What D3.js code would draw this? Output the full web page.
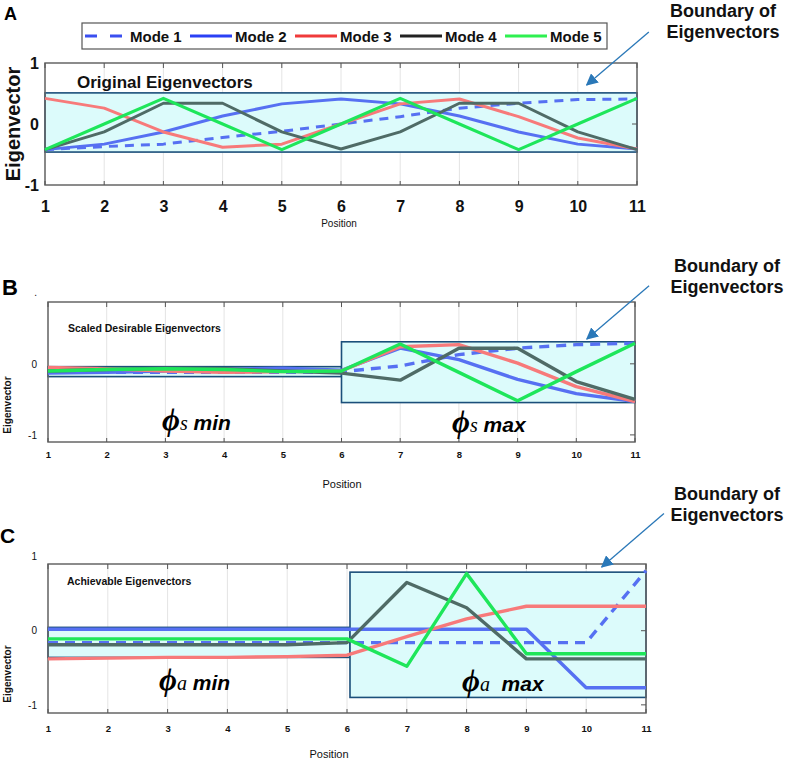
<!DOCTYPE html>
<html>
<head>
<meta charset="utf-8">
<script src="https://cdn.jsdelivr.net/npm/d3@7"></script>
<style>
  body { margin: 0; background: #fff; }
  svg { display: block; }
</style>
</head>
<body>
<div id="chart"></div>
<script>
// data
const positions = [1, 2, 3, 4, 5, 6, 7, 8, 9, 10, 11];
const modeNames = ['Mode 1', 'Mode 2', 'Mode 3', 'Mode 4', 'Mode 5'];

// A - original eigenvectors
const originalMode1 = [-0.42, -0.37, -0.33, -0.22, -0.12, 0, 0.12, 0.26, 0.34, 0.40, 0.41];
const originalMode2 = [-0.42, -0.33, -0.13, 0.13, 0.33, 0.41, 0.33, 0.13, -0.13, -0.33, -0.41];
const originalMode3 = [0.42, 0.26, -0.13, -0.38, -0.33, 0, 0.33, 0.41, 0.12, -0.23, -0.41];
const originalMode4 = [-0.42, -0.13, 0.34, 0.34, -0.13, -0.41, -0.13, 0.34, 0.34, -0.13, -0.42];
const originalMode5 = [-0.42, 0, 0.42, 0, -0.42, 0, 0.42, 0, -0.42, 0, 0.42];

// B - scaled desirable eigenvectors
const scaledMode1 = [-0.12, -0.12, -0.12, -0.12, -0.12, -0.11, -0.03, 0.13, 0.22, 0.27, 0.29];
const scaledMode2 = [-0.13, -0.12, -0.10, -0.08, -0.06, -0.09, 0.22, 0.06, -0.22, -0.42, -0.53];
const scaledMode3 = [-0.05, -0.07, -0.10, -0.12, -0.11, -0.10, 0.24, 0.27, 0.01, -0.32, -0.53];
const scaledMode4 = [-0.10, -0.08, -0.06, -0.07, -0.10, -0.13, -0.23, 0.22, 0.22, -0.25, -0.50];
const scaledMode5 = [-0.10, -0.08, -0.07, -0.08, -0.11, -0.10, 0.28, -0.12, -0.52, -0.11, 0.29];

// C - achievable eigenvectors
const achievableMode1 = [-0.16, -0.16, -0.16, -0.16, -0.16, -0.16, -0.16, -0.16, -0.16, -0.16, 0.81];
const achievableMode2 = [0.02, 0.02, 0.02, 0.02, 0.02, 0.02, 0.02, 0.02, 0.02, -0.77, -0.77];
const achievableMode3 = [-0.38, -0.37, -0.36, -0.36, -0.35, -0.33, -0.08, 0.16, 0.33, 0.33, 0.33];
const achievableMode4 = [-0.19, -0.19, -0.19, -0.19, -0.19, -0.16, 0.65, 0.31, -0.38, -0.38, -0.38];
const achievableMode5 = [-0.11, -0.11, -0.11, -0.11, -0.11, -0.11, -0.48, 0.77, -0.31, -0.31, -0.31];

// boundary boxes (position range, value range)
const boundsOriginal = [{ x0: 1, x1: 11, y0: -0.46, y1: 0.51 }];
const boundsScaled = [{ x0: 1, x1: 6, y0: -0.18, y1: -0.04 }, { x0: 6, x1: 11, y0: -0.545, y1: 0.31 }];
const boundsAchievable = [{ x0: 1, x1: 6.05, y0: -0.36, y1: 0.045 }, { x0: 6.05, x1: 11, y0: -0.9, y1: 0.79 }];

const yTickValues = [1, 0, -1];

const W = 796, H = 765;
const plotColors = ['#5670f2', '#5670f2', '#f77a7a', '#4f6b66', '#1ee65a'];
const legendColors = ['#3a4ff0', '#2a40f5', '#f03a3a', '#222222', '#2ef050'];
const SANS = '"Liberation Sans", Arial, sans-serif';
const NARROW = '"Liberation Sans Narrow", "Arial Narrow", "Liberation Sans", sans-serif';
const SERIF = '"Liberation Serif", "DejaVu Serif", serif';

const svg = d3.select('#chart').append('svg')
  .attr('width', W).attr('height', H)
  .style('background', '#fff');

svg.append('defs').append('marker')
  .attr('id', 'arrowhead')
  .attr('viewBox', '0 0 10 10')
  .attr('refX', 9).attr('refY', 5)
  .attr('markerWidth', 12).attr('markerHeight', 12)
  .attr('markerUnits', 'userSpaceOnUse')
  .attr('orient', 'auto')
  .append('path').attr('d', 'M0,0 L10,5 L0,10 z').attr('fill', '#2a78b8');

const panels = [
  {
    letter: 'A', letterPos: [4, 20], letterSize: 18,
    left: 45, right: 637, top: 63, bottom: 185, yDomain: [-1, 1],
    series: [originalMode1, originalMode2, originalMode3, originalMode4, originalMode5],
    bounds: boundsOriginal,
    yTickLabels: ['1', '0', '-1'], yTickSize: 16, yTickWeight: 'bold', yPad: 6,
    xTickSize: 16, xTickWeight: 'bold', xPad: 15.5, xFont: SANS,
    xLabel: [339, 227, 10], yLabel: [20, 124, 20, 'bold'],
    title: ['Original Eigenvectors', 77, 88, 17, SANS],
    dash: '9,7', lineWidth: 3,
    arrow: { tail: [11.2, 1.51], tip: [10.15, 0.64] }, note: [723, 17],
    phis: []
  },
  {
    letter: 'B', letterPos: [2, 295], letterSize: 22,
    left: 48, right: 635, top: 302, bottom: 442, yDomain: [-1.1, 0.87],
    series: [scaledMode1, scaledMode2, scaledMode3, scaledMode4, scaledMode5],
    bounds: boundsScaled,
    yTickLabels: ['.', '0', '-1'], yTickSize: 10, yTickWeight: 'normal', yPad: 11,
    xTickSize: 9.5, xTickWeight: 'bold', xPad: 9.5, xFont: NARROW,
    xLabel: [342, 488, 11], yLabel: [11, 405, 10, 'bold'],
    title: ['Scaled Desirable Eigenvectors', 68, 332, 10.5, NARROW],
    dash: '10,7', lineWidth: 3.4,
    arrow: { tail: [11.24, 1.1], tip: [10.18, 0.35] }, note: [727, 272],
    phis: [{ x: 162, y: 430, sub: 's', word: ' min' }, { x: 452, y: 432, sub: 's', word: ' max' }]
  },
  {
    letter: 'C', letterPos: [0, 543], letterSize: 21,
    left: 48, right: 646, top: 564, bottom: 713, yDomain: [-1.11, 0.9],
    series: [achievableMode1, achievableMode2, achievableMode3, achievableMode4, achievableMode5],
    bounds: boundsAchievable,
    yTickLabels: ['1', '0', '-1'], yTickSize: 10, yTickWeight: 'normal', yPad: 11,
    xTickSize: 9.5, xTickWeight: 'bold', xPad: 12.5, xFont: NARROW,
    xLabel: [329, 758, 11], yLabel: [11, 674, 10, 'bold'],
    title: ['Achievable Eigenvectors', 67, 585, 10.5, NARROW],
    dash: '10,7', lineWidth: 3.4,
    arrow: { tail: [11.3, 1.58], tip: [10.26, 0.86] }, note: [727, 500],
    phis: [{ x: 159, y: 690, sub: 'a', word: ' min' }, { x: 462, y: 691, sub: 'a', word: '  max' }]
  }
];

panels.forEach(p => drawPanel(p));
drawLegend();

function drawPanel(p) {
  const x = d3.scaleLinear().domain([1, 11]).range([p.left, p.right]);
  const y = d3.scaleLinear().domain(p.yDomain).range([p.bottom, p.top]);
  const g = svg.append('g');

  // grid
  g.selectAll('line.grid').data(positions).join('line')
    .attr('class', 'grid')
    .attr('x1', d => x(d)).attr('x2', d => x(d))
    .attr('y1', p.top).attr('y2', p.bottom)
    .attr('stroke', '#e4e4e4').attr('stroke-width', 1);

  // boundary boxes
  g.selectAll('rect.bound').data(p.bounds).join('rect')
    .attr('class', 'bound')
    .attr('x', d => x(d.x0)).attr('y', d => y(d.y1))
    .attr('width', d => x(d.x1) - x(d.x0))
    .attr('height', d => y(d.y0) - y(d.y1))
    .attr('fill', '#dcfbfb')
    .attr('stroke', '#1b4f7a').attr('stroke-width', 1.6);

  // frame + inward ticks
  g.append('rect')
    .attr('x', p.left).attr('y', p.top)
    .attr('width', p.right - p.left).attr('height', p.bottom - p.top)
    .attr('fill', 'none').attr('stroke', '#666').attr('stroke-width', 1.5);
  g.selectAll('line.tt').data(positions).join('line')
    .attr('class', 'tt')
    .attr('x1', d => x(d)).attr('x2', d => x(d))
    .attr('y1', p.top).attr('y2', p.top + 5)
    .attr('stroke', '#555').attr('stroke-width', 1);
  g.selectAll('line.bt').data(positions).join('line')
    .attr('class', 'bt')
    .attr('x1', d => x(d)).attr('x2', d => x(d))
    .attr('y1', p.bottom).attr('y2', p.bottom - 4)
    .attr('stroke', '#555').attr('stroke-width', 1);
  const inY = yTickValues.filter(v => v > p.yDomain[0] && v < p.yDomain[1]);
  g.selectAll('line.rt').data(inY).join('line')
    .attr('class', 'rt')
    .attr('x1', p.right).attr('x2', p.right - 5)
    .attr('y1', d => y(d)).attr('y2', d => y(d))
    .attr('stroke', '#555').attr('stroke-width', 1);

  // eigenvector lines
  const line = d3.line().x((d, i) => x(positions[i])).y(d => y(d));
  g.selectAll('path.mode').data(p.series).join('path')
    .attr('class', 'mode')
    .attr('d', d => line(d))
    .attr('fill', 'none')
    .attr('stroke', (d, i) => plotColors[i])
    .attr('stroke-width', p.lineWidth)
    .attr('stroke-linejoin', 'round')
    .attr('stroke-dasharray', (d, i) => i === 0 ? p.dash : null);

  // x axis
  const xa = g.append('g')
    .attr('transform', `translate(0,${p.bottom})`)
    .call(d3.axisBottom(x).tickValues(positions).tickFormat(d3.format('d')).tickSize(0).tickPadding(p.xPad));
  xa.select('.domain').remove();
  xa.selectAll('text')
    .attr('fill', '#111')
    .style('font-family', p.xFont)
    .style('font-size', p.xTickSize + 'px')
    .style('font-weight', p.xTickWeight);

  // y axis
  const ya = g.append('g')
    .attr('transform', `translate(${p.left},0)`)
    .call(d3.axisLeft(y).tickValues(yTickValues).tickFormat((d, i) => p.yTickLabels[i]).tickSize(0).tickPadding(p.yPad));
  ya.select('.domain').remove();
  ya.selectAll('text')
    .attr('fill', '#111')
    .style('font-family', SANS)
    .style('font-size', p.yTickSize + 'px')
    .style('font-weight', p.yTickWeight);

  // labels
  svg.append('text')
    .attr('x', p.xLabel[0]).attr('y', p.xLabel[1])
    .attr('text-anchor', 'middle')
    .style('font-family', NARROW).style('font-size', p.xLabel[2] + 'px')
    .attr('fill', '#111')
    .text('Position');
  svg.append('text')
    .attr('transform', `translate(${p.yLabel[0]},${p.yLabel[1]}) rotate(-90)`)
    .attr('text-anchor', 'middle')
    .style('font-family', SANS).style('font-size', p.yLabel[2] + 'px')
    .style('font-weight', p.yLabel[3])
    .attr('fill', '#111')
    .text('Eigenvector');
  svg.append('text')
    .attr('x', p.letterPos[0]).attr('y', p.letterPos[1])
    .style('font-family', SANS).style('font-size', p.letterSize + 'px')
    .style('font-weight', 'bold').attr('fill', '#000')
    .text(p.letter);
  svg.append('text')
    .attr('x', p.title[1]).attr('y', p.title[2])
    .style('font-family', p.title[4]).style('font-size', p.title[3] + 'px')
    .style('font-weight', 'bold').attr('fill', '#111')
    .text(p.title[0]);

  // phi annotations
  p.phis.forEach(ph => {
    const t = svg.append('text').attr('x', ph.x).attr('y', ph.y).attr('fill', '#000');
    t.append('tspan').style('font-family', SERIF).style('font-style', 'italic')
      .style('font-weight', 'bold').style('font-size', '31px').text('ϕ');
    t.append('tspan').style('font-family', SERIF).style('font-style', 'italic')
      .style('font-size', '20px').text(ph.sub);
    t.append('tspan').style('font-family', SANS).style('font-style', 'italic')
      .style('font-weight', 'bold').style('font-size', '21px')
      .attr('xml:space', 'preserve').text(ph.word);
  });

  // boundary note + arrow
  const note = svg.append('text')
    .attr('x', p.note[0]).attr('y', p.note[1])
    .attr('text-anchor', 'middle')
    .style('font-family', SANS).style('font-size', '18px').style('font-weight', 'bold')
    .attr('fill', '#111');
  note.append('tspan').attr('x', p.note[0]).text('Boundary of');
  note.append('tspan').attr('x', p.note[0]).attr('dy', 21).text('Eigenvectors');
  svg.append('line')
    .attr('x1', x(p.arrow.tail[0])).attr('y1', y(p.arrow.tail[1]))
    .attr('x2', x(p.arrow.tip[0])).attr('y2', y(p.arrow.tip[1]))
    .attr('stroke', '#2a78b8').attr('stroke-width', 1.3)
    .attr('marker-end', 'url(#arrowhead)');
}

function drawLegend() {
  const g = svg.append('g');
  g.append('rect')
    .attr('x', 82).attr('y', 23).attr('width', 525).attr('height', 26)
    .attr('fill', '#fff').attr('stroke', '#555').attr('stroke-width', 1.2);
  const lx = d3.scaleLinear().domain([0, 4]).range([85, 505]);
  const items = g.selectAll('g.item').data(modeNames).join('g')
    .attr('class', 'item')
    .attr('transform', (d, i) => `translate(${lx(i)},36)`);
  items.append('line')
    .attr('x1', 0).attr('x2', (d, i) => i === 0 ? 38 : 42)
    .attr('y1', 0).attr('y2', 0)
    .attr('stroke', (d, i) => legendColors[i])
    .attr('stroke-width', 3)
    .attr('stroke-dasharray', (d, i) => i === 0 ? '12,13' : null);
  items.append('text')
    .attr('x', 45).attr('y', 5.5)
    .style('font-family', NARROW).style('font-size', '15px').style('font-weight', 'bold')
    .attr('fill', '#111')
    .text(d => d);
}
</script>
</body>
</html>
